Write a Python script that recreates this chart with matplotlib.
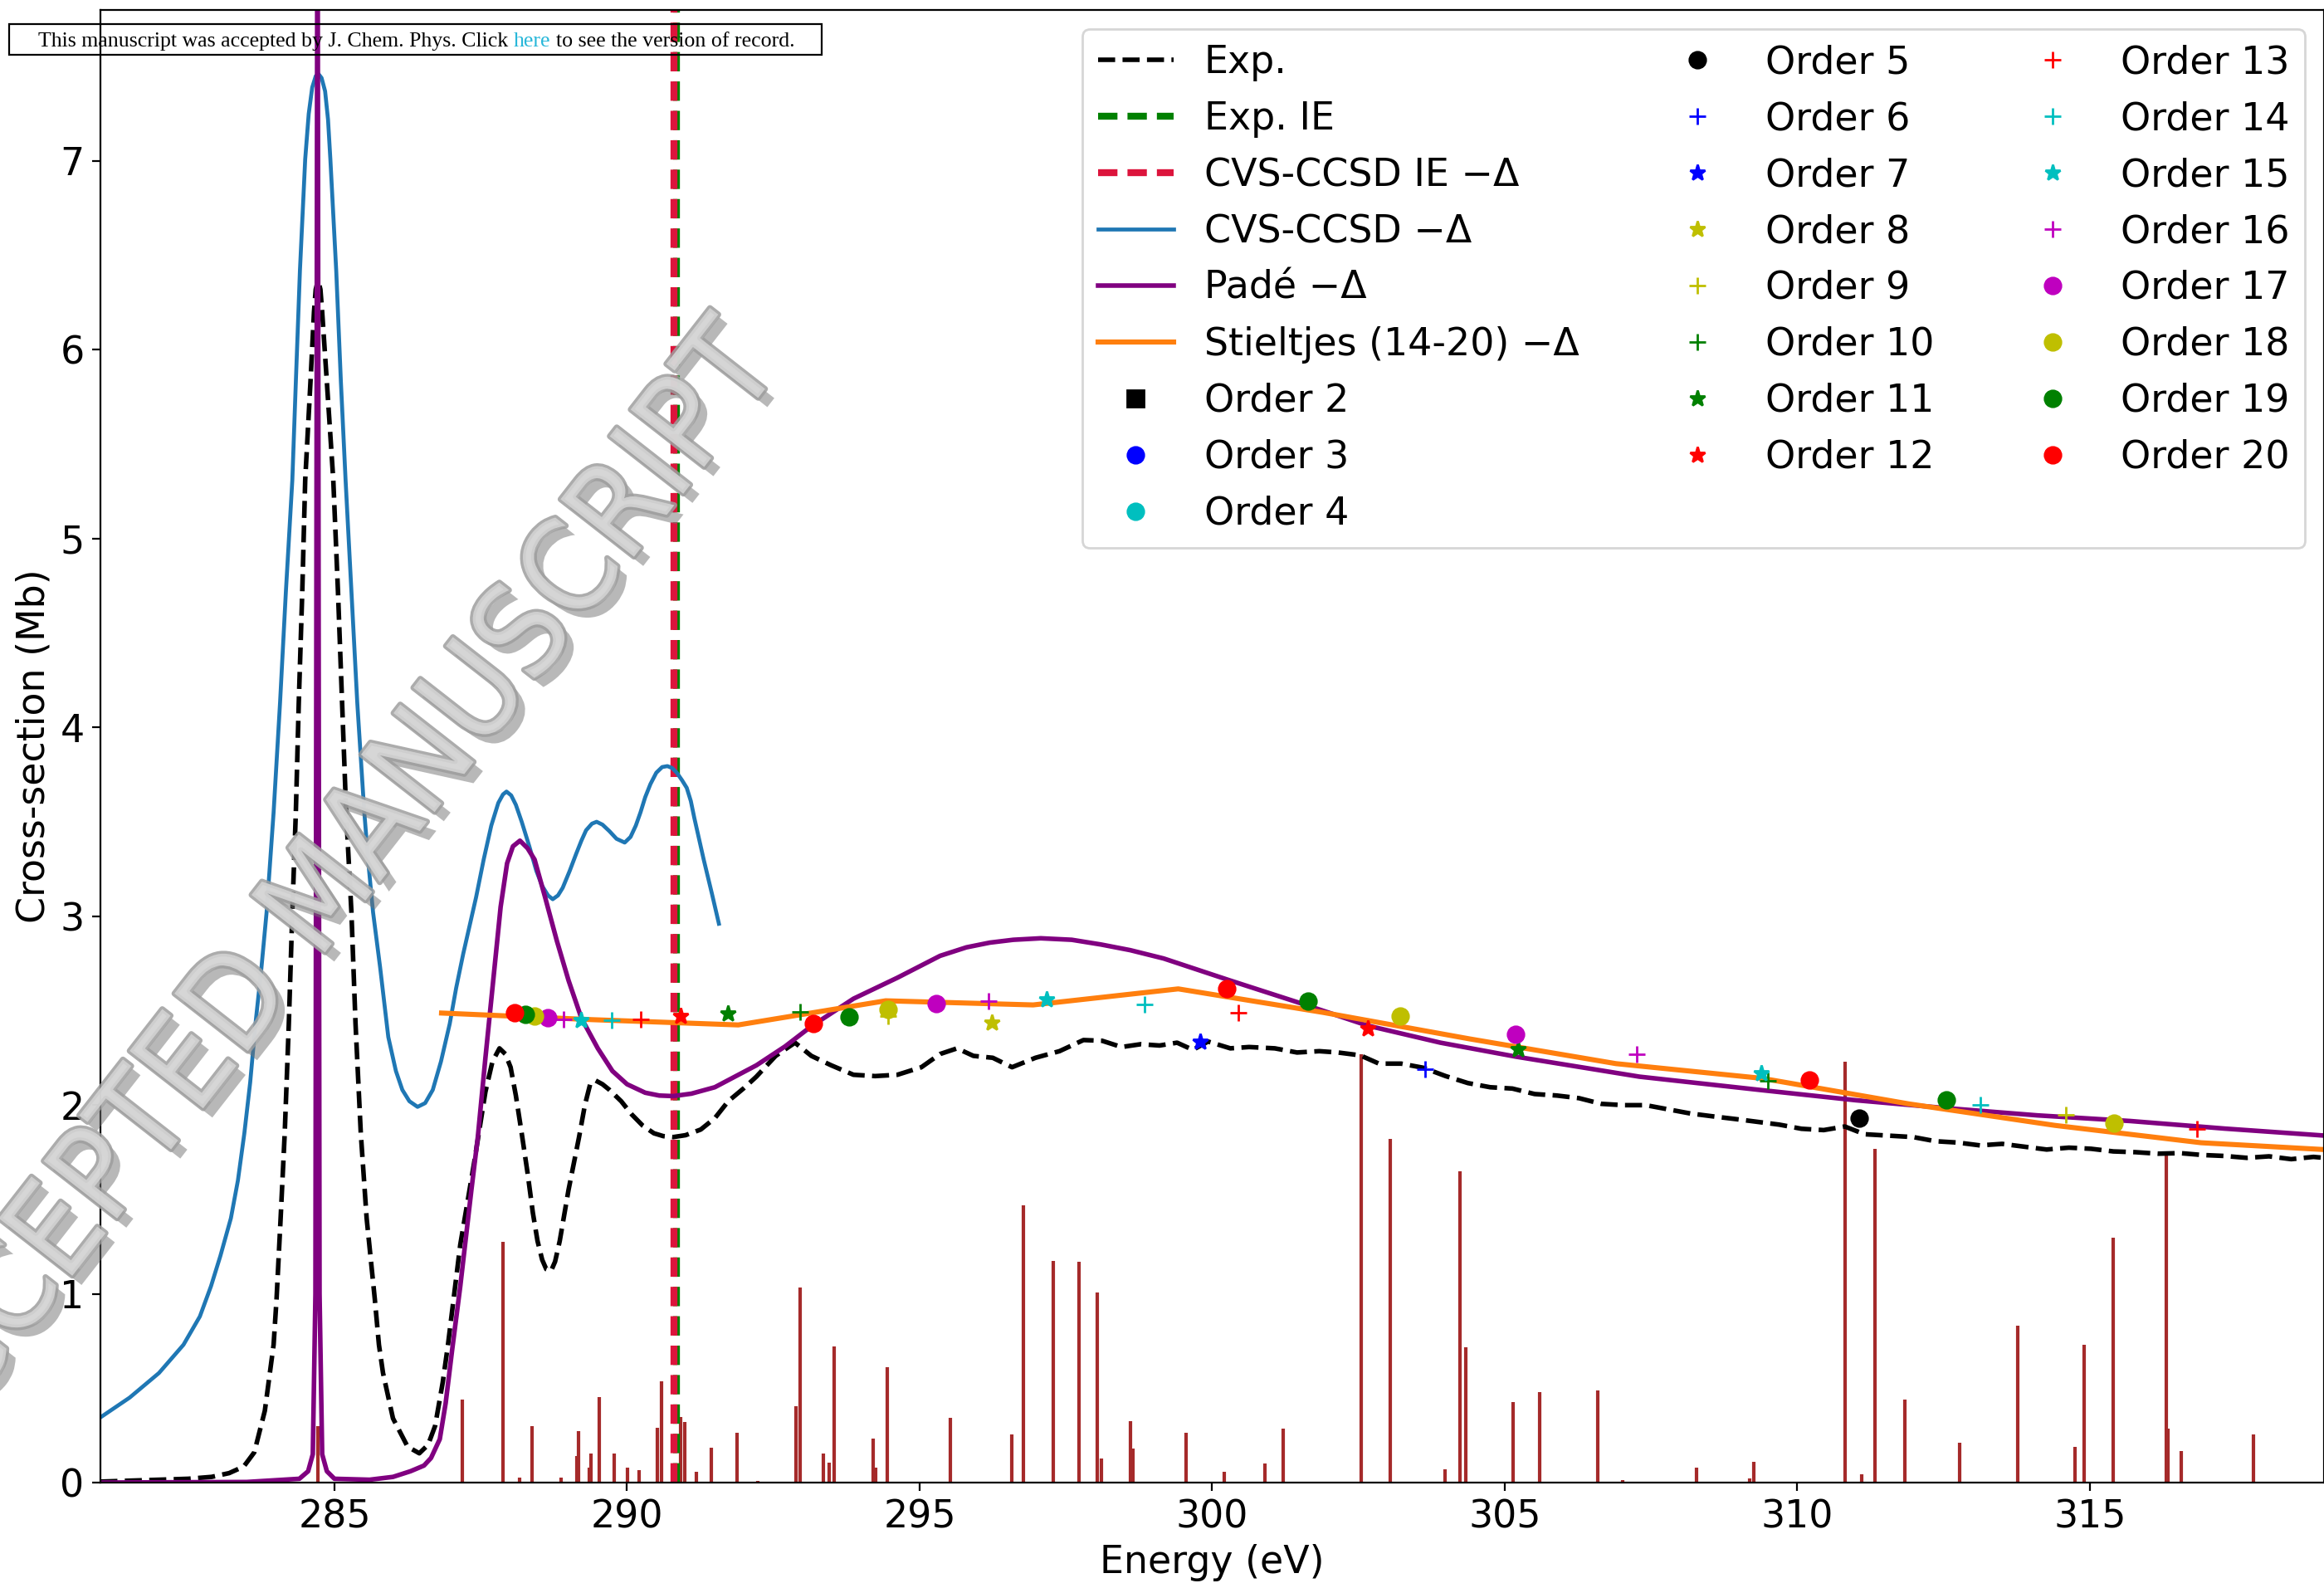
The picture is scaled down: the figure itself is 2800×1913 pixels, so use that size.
import matplotlib
matplotlib.use('Agg')
import matplotlib.pyplot as plt
import matplotlib.patheffects as pe
from matplotlib.patches import Rectangle

plt.rcParams['font.family'] = ['DejaVu Sans']
plt.rcParams['font.size'] = 16.5

# experimental photoionisation cross-section (Mb)
exp_e = [281.0, 281.5, 282.0, 282.5, 282.9, 283.2, 283.45, 283.63, 283.81, 283.96,
         284.01, 284.08, 284.15, 284.22, 284.28, 284.34, 284.39, 284.45, 284.50, 284.59,
         284.65, 284.68, 284.72, 284.76, 284.79, 284.87, 284.98, 285.06, 285.13, 285.20,
         285.29, 285.36, 285.45, 285.55, 285.69, 285.76, 285.83, 286.0, 286.25, 286.45,
         286.6, 286.72, 286.85, 286.94, 287.15, 287.39, 287.58, 287.7, 287.82, 287.92,
         288.01, 288.1, 288.20, 288.3, 288.39, 288.47, 288.55, 288.62, 288.70, 288.77,
         288.85, 289.0, 289.18, 289.28, 289.37, 289.46, 289.58, 289.70, 289.9, 290.08,
         290.27, 290.46, 290.62, 290.79, 291.0, 291.26, 291.5, 291.73, 292.0, 292.21,
         292.54, 292.87, 293.15, 293.49, 293.87, 294.24, 294.62, 295.03, 295.35, 295.64,
         295.92, 296.25, 296.58, 296.98, 297.39, 297.80, 298.12, 298.45, 298.78, 299.10,
         299.40, 299.67, 299.93, 300.31, 300.63, 301.07, 301.45, 301.83, 302.15, 302.53,
         302.85, 303.23, 303.61, 303.99, 304.37, 304.75, 305.13, 305.51, 305.89, 306.27,
         306.65, 307.03, 307.41, 307.79, 308.17, 308.55, 308.93, 309.31, 309.69, 310.07,
         310.45, 310.81, 311.15, 311.53, 311.98, 312.36, 312.74, 313.12, 313.50, 313.88,
         314.26, 314.64, 315.02, 315.40, 315.78, 316.16, 316.54, 316.92, 317.30, 317.68,
         318.06, 318.44, 318.82, 319.0]
exp_cs = [0.005, 0.01, 0.015, 0.02, 0.03, 0.05, 0.085, 0.16, 0.38, 0.73,
          0.97, 1.40, 1.85, 2.43, 3.02, 3.55, 4.13, 4.72, 5.31, 5.83,
          6.2, 6.32, 6.37, 6.32, 6.2, 5.83, 5.31, 4.72, 4.13, 3.55,
          3.02, 2.43, 1.85, 1.40, 0.97, 0.73, 0.58, 0.34, 0.19, 0.155,
          0.2, 0.30, 0.53, 0.73, 1.26, 1.70, 2.07, 2.23, 2.30, 2.27,
          2.20, 2.05, 1.85, 1.64, 1.43, 1.28, 1.18, 1.13, 1.12, 1.17,
          1.28, 1.55, 1.83, 2.0, 2.11, 2.13, 2.11, 2.08, 2.02, 1.95,
          1.89, 1.85, 1.835, 1.83, 1.84, 1.87, 1.93, 2.02, 2.09, 2.15,
          2.26, 2.33, 2.26, 2.21, 2.16, 2.153, 2.16, 2.20, 2.27, 2.30,
          2.26, 2.25, 2.20, 2.25, 2.285, 2.344, 2.34, 2.307, 2.322, 2.315,
          2.33, 2.292, 2.336, 2.30, 2.307, 2.30, 2.278, 2.285, 2.278, 2.263,
          2.219, 2.219, 2.197, 2.153, 2.116, 2.094, 2.087, 2.058, 2.05, 2.036,
          2.006, 1.999, 1.999, 1.977, 1.955, 1.94, 1.926, 1.911, 1.896, 1.874,
          1.867, 1.886, 1.845, 1.838, 1.83, 1.808, 1.801, 1.786, 1.794, 1.779,
          1.764, 1.774, 1.768, 1.754, 1.75, 1.742, 1.745, 1.735, 1.73, 1.72,
          1.728, 1.713, 1.725, 1.72]

# ionisation energies (eV)
exp_ie = 290.85
cvs_ie = 290.80

# CVS-CCSD spectrum
cvs_e = [281.0, 281.5, 282.0, 282.42, 282.7, 282.89, 283.05, 283.23, 283.35, 283.46,
         283.56, 283.65, 283.75, 283.84, 283.96, 284.07, 284.17, 284.28, 284.34, 284.41,
         284.50, 284.56, 284.62, 284.68, 284.73, 284.78, 284.84, 284.89, 284.93, 285.03,
         285.11, 285.19, 285.29, 285.39, 285.51, 285.58, 285.66, 285.78, 285.92, 286.05,
         286.16, 286.28, 286.42, 286.55, 286.68, 286.82, 286.97, 287.08, 287.20, 287.31,
         287.42, 287.55, 287.68, 287.80, 287.88, 287.94, 288.02, 288.1, 288.2, 288.33,
         288.45, 288.55, 288.65, 288.73, 288.82, 288.9, 289.02, 289.13, 289.22, 289.3,
         289.4, 289.48, 289.58, 289.7, 289.82, 289.96, 290.06, 290.15, 290.23, 290.31,
         290.4, 290.5, 290.6, 290.69, 290.77, 290.85, 290.94, 291.02, 291.09, 291.15,
         291.23, 291.31, 291.38, 291.45, 291.51, 291.57]
cvs_cs = [0.345, 0.45, 0.58, 0.73, 0.88, 1.04, 1.20, 1.40, 1.60, 1.85,
          2.12, 2.43, 2.72, 3.02, 3.55, 4.13, 4.72, 5.31, 5.83, 6.42,
          7.01, 7.25, 7.39, 7.45, 7.46, 7.44, 7.37, 7.22, 7.01, 6.42,
          5.83, 5.31, 4.72, 4.13, 3.55, 3.28, 3.02, 2.73, 2.36, 2.18,
          2.08, 2.02, 1.99, 2.01, 2.08, 2.23, 2.43, 2.62, 2.80, 2.95,
          3.10, 3.30, 3.48, 3.60, 3.645, 3.66, 3.64, 3.59, 3.50, 3.37,
          3.24, 3.16, 3.11, 3.09, 3.11, 3.15, 3.24, 3.33, 3.40, 3.455,
          3.49, 3.50, 3.485, 3.45, 3.41, 3.39, 3.42, 3.48, 3.55, 3.63,
          3.70, 3.76, 3.79, 3.795, 3.785, 3.76, 3.72, 3.68, 3.61, 3.52,
          3.41, 3.30, 3.21, 3.12, 3.04, 2.96]

# Pade approximant
pade_e = [281.0, 283.5, 284.4, 284.55, 284.63, 284.675, 284.71, 284.745, 284.79, 284.87,
          285.0, 285.6, 286.0, 286.3, 286.53, 286.65, 286.8, 286.9, 287.01, 287.15,
          287.34, 287.45, 287.58, 287.71, 287.84, 287.95, 288.05, 288.17, 288.30, 288.42,
          288.6, 288.80, 289.0, 289.22, 289.5, 289.75, 290.0, 290.31, 290.55, 290.79,
          291.1, 291.50, 292.21, 292.7, 293.15, 293.87, 294.62, 295.35, 295.8, 296.2,
          296.6, 297.07, 297.6, 298.1, 298.6, 299.17, 300.3, 301.5, 302.66, 303.9,
          305.19, 307.3, 309.35, 311.0, 312.52, 314.1, 315.69, 317.3, 319.0]
pade_cs = [0.0, 0.003, 0.02, 0.06, 0.15, 1.0, 9.0, 1.0, 0.15, 0.06,
           0.02, 0.015, 0.03, 0.06, 0.09, 0.13, 0.23, 0.42, 0.70, 1.04,
           1.55, 1.83, 2.25, 2.65, 3.05, 3.28, 3.37, 3.40, 3.36, 3.30,
           3.10, 2.87, 2.66, 2.46, 2.30, 2.18, 2.11, 2.065, 2.05, 2.047,
           2.06, 2.094, 2.21, 2.31, 2.417, 2.563, 2.674, 2.79, 2.835, 2.86,
           2.875, 2.883, 2.875, 2.85, 2.82, 2.776, 2.66, 2.54, 2.42, 2.33,
           2.256, 2.15, 2.08, 2.025, 1.984, 1.945, 1.915, 1.875, 1.838]

# Stieltjes imaging (orders 14-20)
stj_e = [286.83, 289.4, 291.9, 294.42, 296.94, 299.42, 301.9, 304.4, 306.9, 309.4,
         311.9, 314.4, 316.9, 319.4]
stj_cs = [2.487, 2.452, 2.424, 2.552, 2.53, 2.615, 2.49, 2.35, 2.219, 2.141,
          2.006, 1.892, 1.80, 1.757]

# individual Stieltjes orders
orders = [2, 3, 4, 5, 6, 7, 8, 9, 10, 11, 12, 13, 14, 15, 16, 17, 18, 19, 20]
order_e = [[], [], [], [311.06], [303.64], [299.80], [296.23],
           [294.46, 314.59], [292.96, 309.50], [291.72, 305.23], [290.92, 302.66],
           [290.24, 300.44, 316.83], [289.74, 298.84, 313.13], [289.22, 297.17, 309.38],
           [288.91, 296.18, 307.25], [288.65, 295.29, 305.19],
           [288.42, 294.46, 303.21, 315.41], [288.26, 293.79, 301.64, 312.55],
           [288.08, 293.18, 300.25, 310.21]]
order_cs = [[], [], [], [1.93], [2.19], [2.336], [2.437],
            [2.47, 1.948], [2.494, 2.126], [2.483, 2.297], [2.471, 2.405],
            [2.453, 2.49, 1.874], [2.449, 2.534, 1.999], [2.449, 2.559, 2.168],
            [2.453, 2.552, 2.267], [2.464, 2.537, 2.373],
            [2.47, 2.505, 2.471, 1.904], [2.48, 2.465, 2.552, 2.027],
            [2.487, 2.431, 2.615, 2.132]]
order_marker = ['s', 'o', 'o', 'o', '+', '*', '*', '+', '+', '*', '*', '+', '+', '*', '+', 'o', 'o', 'o', 'o']
order_color = ['k', 'b', 'c', 'k', 'b', 'b', 'y', 'y', 'g', 'g', 'r', 'r', 'c', 'c', 'm', 'm', 'y', 'g', 'r']

# CVS-CCSD oscillator strengths (stick spectrum)
stick_e = [284.71, 287.19, 287.88, 288.16, 288.38, 288.87, 289.14, 289.17, 289.35, 289.39,
           289.52, 289.78, 290.01, 290.21, 290.52, 290.59, 290.92, 290.99, 291.18, 291.44,
           291.88, 292.24, 292.89, 292.96, 293.35, 293.46, 293.54, 294.20, 294.25, 294.45,
           295.53, 296.58, 296.77, 297.29, 297.72, 298.03, 298.10, 298.60, 298.65, 299.56,
           300.20, 300.90, 301.22, 302.55, 303.04, 303.98, 304.24, 304.33, 305.14, 305.60,
           306.59, 307.02, 308.27, 309.19, 309.25, 310.81, 311.10, 311.32, 311.84, 312.78,
           313.76, 314.74, 314.90, 315.40, 316.30, 316.33, 316.56, 317.79]
stick_h = [0.3, 0.44, 1.273, 0.026, 0.298, 0.026, 0.141, 0.273, 0.079, 0.155,
           0.452, 0.155, 0.079, 0.067, 0.29, 0.535, 0.349, 0.323, 0.059, 0.185,
           0.265, 0.01, 0.405, 1.034, 0.155, 0.107, 0.723, 0.232, 0.08, 0.613,
           0.342, 0.254, 1.467, 1.175, 1.17, 1.009, 0.126, 0.324, 0.18, 0.264,
           0.056, 0.10, 0.286, 2.27, 1.82, 0.07, 1.647, 0.718, 0.425, 0.478,
           0.487, 0.015, 0.078, 0.02, 0.11, 2.229, 0.045, 1.769, 0.441, 0.21,
           0.833, 0.19, 0.73, 1.298, 1.75, 0.286, 0.169, 0.254]

fig = plt.figure(figsize=(14, 9.565), dpi=200)
ax = fig.add_axes([0.0432, 0.0664, 0.9568, 0.9273])

ax.vlines(stick_e, 0, stick_h, color='brown', lw=1.5)
ax.plot(exp_e, exp_cs, 'k--', lw=2, label='Exp.')
ax.axvline(exp_ie, color='green', ls='--', dashes=(2.8, 1.45), lw=3, label='Exp. IE')
ax.axvline(cvs_ie, color='crimson', ls='--', dashes=(2.8, 1.45), lw=3, label='CVS-CCSD IE −Δ')
ax.plot(cvs_e, cvs_cs, color='tab:blue', lw=1.7, label='CVS-CCSD −Δ')
ax.plot(pade_e, pade_cs, color='purple', lw=2.0, label='Padé −Δ')
ax.plot(stj_e, stj_cs, color='tab:orange', lw=2.2, label='Stieltjes (14-20) −Δ')
for n, e, cs, m, c in zip(orders, order_e, order_cs, order_marker, order_color):
    ax.plot(e, cs, ls='none', marker=m, ms=7, color=c, label='Order %d' % n)

ax.set_xlim(281, 319)
ax.set_ylim(0, 7.8)
ax.set_xticks([285, 290, 295, 300, 305, 310, 315])
ax.set_yticks([0, 1, 2, 3, 4, 5, 6, 7])
ax.set_xlabel('Energy (eV)')
ax.set_ylabel('Cross-section (Mb)')
ax.xaxis.set_label_coords(0.5, -0.042)
ax.yaxis.set_label_coords(-0.0215, 0.5)
ax.legend(loc='upper right', ncol=3, labelspacing=0.5, columnspacing=2.1)

# journal banner
fig.add_artist(Rectangle((11 / 2800, 1 - 66 / 1913), 979 / 2800, 37 / 1913,
                         transform=fig.transFigure, fill=False, lw=0.8, ec='k'))
fig.canvas.draw()
r = fig.canvas.get_renderer()
p1 = 'This manuscript was accepted by J. Chem. Phys. Click '
bfs = 9.3


def width(s):
    t = fig.text(0, 0, s, family='Liberation Serif', fontsize=bfs)
    w = t.get_window_extent(r).width / fig.bbox.width
    t.remove()
    return w


x0 = 46 / 2800
yb = 1 - 56 / 1913
fig.text(x0, yb, p1.rstrip(), family='Liberation Serif', fontsize=bfs, va='baseline')
x_here = x0 + width(p1 + 'here') - width('here')
fig.text(x_here, yb, 'here', family='Liberation Serif', fontsize=bfs, va='baseline', color='#27b7d9')
x_rest = x0 + width(p1 + 'here to') - width('to')
fig.text(x_rest, yb, 'to see the version of record.', family='Liberation Serif', fontsize=bfs, va='baseline')

# watermark
fig.text(0.1511, 0.4214, 'ACCEPTED MANUSCRIPT', fontsize=55.5, fontstretch='condensed', rotation=52,
         rotation_mode='anchor', ha='center', va='baseline', color='#d6d6d6', alpha=0.85, zorder=10,
         path_effects=[pe.SimplePatchShadow(offset=(4, -4), shadow_rgbFace='0.45', alpha=0.5),
                       pe.Stroke(linewidth=2.5, foreground='0.62'), pe.Normal()])

fig.savefig('out.png', dpi=200)
